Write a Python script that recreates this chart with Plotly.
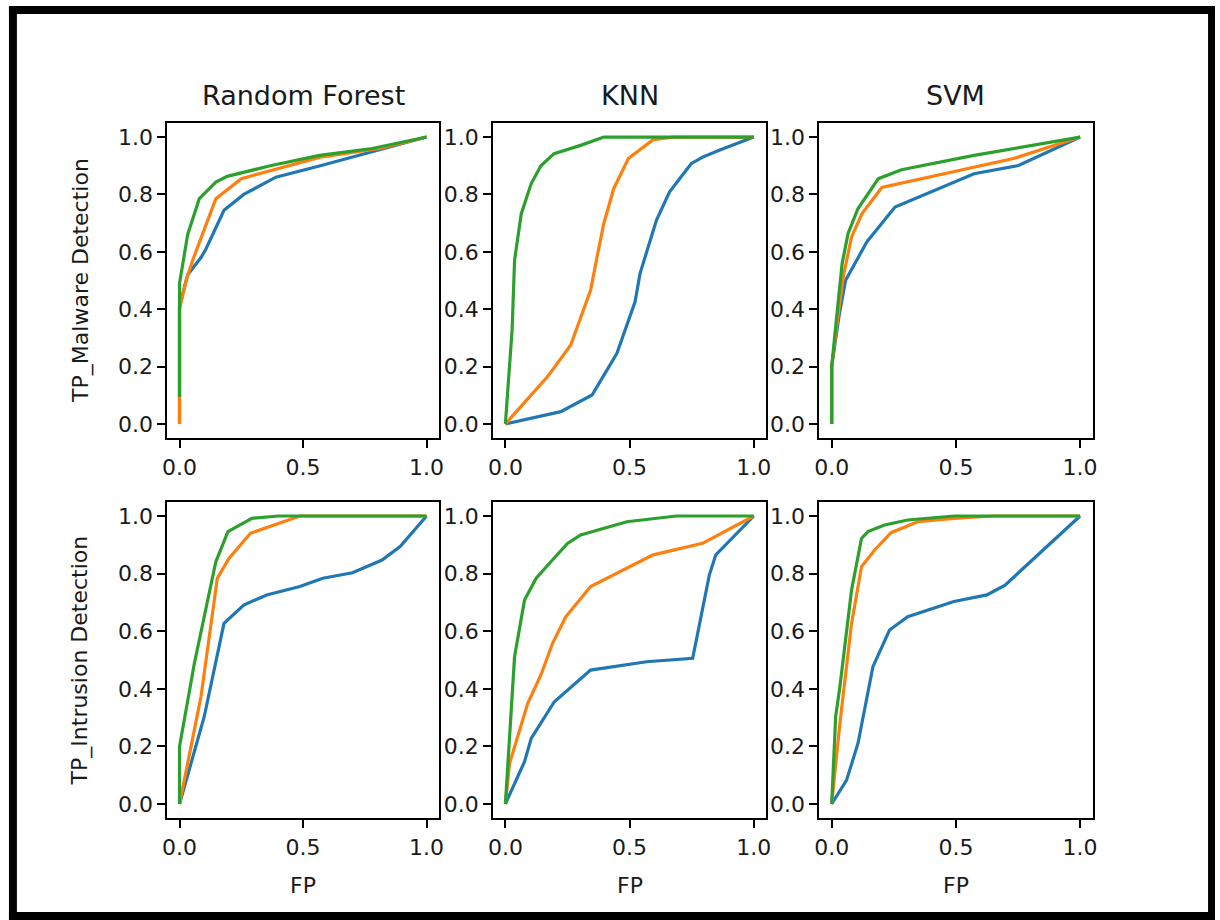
import plotly.graph_objects as go

W, H = 1220, 920

# ---------------- data ----------------
col_titles = ["Random Forest", "KNN", "SVM"]
row_labels = ["TP_Malware Detection", "TP_Intrusion Detection"]
x_label = "FP"
x_ticks = [0.0, 0.5, 1.0]
x_tick_text = ["0.0", "0.5", "1.0"]
y_ticks = [0.0, 0.2, 0.4, 0.6, 0.8, 1.0]
y_tick_text = ["0.0", "0.2", "0.4", "0.6", "0.8", "1.0"]
series_colors = ["#1f77b4", "#ff7f0e", "#2ca02c"]

# Random Forest - malware
rf_mal_blue_fp = [0.0, 0.0, 0.033, 0.087, 0.107, 0.18, 0.26, 0.39, 0.57, 0.78, 1.0]
rf_mal_blue_tp = [0.0, 0.41, 0.52, 0.58, 0.61, 0.745, 0.80, 0.86, 0.90, 0.95, 1.0]
rf_mal_orange_fp = [0.0, 0.0, 0.027, 0.053, 0.147, 0.25, 0.57, 0.81, 1.0]
rf_mal_orange_tp = [0.0, 0.40, 0.50, 0.57, 0.785, 0.855, 0.93, 0.96, 1.0]
rf_mal_green_fp = [0.0, 0.0, 0.033, 0.08, 0.147, 0.193, 0.367, 0.567, 0.78, 1.0]
rf_mal_green_tp = [0.095, 0.49, 0.66, 0.785, 0.843, 0.863, 0.90, 0.936, 0.96, 1.0]

# KNN - malware
knn_mal_blue_fp = [0.0, 0.223, 0.349, 0.449, 0.522, 0.542, 0.608, 0.661, 0.748, 0.794, 0.861, 1.0]
knn_mal_blue_tp = [0.0, 0.043, 0.101, 0.246, 0.426, 0.524, 0.71, 0.809, 0.907, 0.93, 0.954, 1.0]
knn_mal_orange_fp = [0.0, 0.17, 0.263, 0.343, 0.369, 0.396, 0.436, 0.495, 0.595, 0.675, 1.0]
knn_mal_orange_tp = [0.0, 0.165, 0.275, 0.466, 0.582, 0.698, 0.82, 0.925, 0.991, 1.0, 1.0]
knn_mal_green_fp = [0.0, 0.027, 0.037, 0.064, 0.104, 0.143, 0.196, 0.303, 0.396, 1.0]
knn_mal_green_tp = [0.0, 0.327, 0.571, 0.733, 0.838, 0.90, 0.942, 0.971, 1.0, 1.0]

# SVM - malware
svm_mal_blue_fp = [0.0, 0.0, 0.029, 0.056, 0.142, 0.255, 0.573, 0.752, 1.0]
svm_mal_blue_tp = [0.0, 0.2, 0.374, 0.501, 0.635, 0.756, 0.872, 0.901, 1.0]
svm_mal_orange_fp = [0.0, 0.0, 0.023, 0.049, 0.08, 0.122, 0.202, 0.573, 0.732, 1.0]
svm_mal_orange_tp = [0.0, 0.2, 0.362, 0.524, 0.652, 0.733, 0.824, 0.896, 0.925, 1.0]
svm_mal_green_fp = [0.0, 0.0, 0.016, 0.042, 0.066, 0.106, 0.188, 0.281, 0.573, 0.732, 1.0]
svm_mal_green_tp = [0.0, 0.2, 0.339, 0.559, 0.664, 0.751, 0.855, 0.886, 0.936, 0.96, 1.0]

# Random Forest - intrusion
rf_int_blue_fp = [0.0, 0.1, 0.18, 0.26, 0.353, 0.487, 0.58, 0.70, 0.82, 0.893, 1.0]
rf_int_blue_tp = [0.0, 0.303, 0.627, 0.691, 0.726, 0.755, 0.784, 0.803, 0.847, 0.894, 1.0]
rf_int_orange_fp = [0.0, 0.087, 0.153, 0.2, 0.287, 0.487, 1.0]
rf_int_orange_tp = [0.0, 0.373, 0.784, 0.853, 0.94, 1.0, 1.0]
rf_int_green_fp = [0.0, 0.0, 0.06, 0.147, 0.196, 0.293, 0.40, 1.0]
rf_int_green_tp = [0.0, 0.199, 0.488, 0.841, 0.946, 0.992, 1.0, 1.0]

# KNN - intrusion
knn_int_blue_fp = [0.0, 0.077, 0.104, 0.197, 0.343, 0.568, 0.754, 0.821, 0.847, 1.0]
knn_int_blue_tp = [0.0, 0.147, 0.228, 0.355, 0.465, 0.494, 0.506, 0.795, 0.865, 1.0]
knn_int_orange_fp = [0.0, 0.017, 0.09, 0.143, 0.19, 0.243, 0.343, 0.595, 0.794, 1.0]
knn_int_orange_tp = [0.0, 0.141, 0.35, 0.448, 0.558, 0.65, 0.755, 0.865, 0.905, 1.0]
knn_int_green_fp = [0.0, 0.024, 0.037, 0.077, 0.124, 0.183, 0.25, 0.303, 0.489, 0.688, 1.0]
knn_int_green_tp = [0.0, 0.326, 0.512, 0.708, 0.784, 0.841, 0.905, 0.934, 0.98, 1.0, 1.0]

# SVM - intrusion
svm_int_blue_fp = [0.0, 0.06, 0.106, 0.166, 0.233, 0.306, 0.492, 0.625, 0.698, 1.0]
svm_int_blue_tp = [0.0, 0.083, 0.211, 0.477, 0.604, 0.65, 0.703, 0.726, 0.76, 1.0]
svm_int_orange_fp = [0.0, 0.033, 0.08, 0.12, 0.173, 0.239, 0.346, 0.492, 0.652, 1.0]
svm_int_orange_tp = [0.0, 0.28, 0.627, 0.824, 0.882, 0.942, 0.98, 0.992, 1.0, 1.0]
svm_int_green_fp = [0.0, 0.016, 0.033, 0.08, 0.12, 0.146, 0.213, 0.306, 0.492, 1.0]
svm_int_green_tp = [0.0, 0.303, 0.407, 0.743, 0.922, 0.946, 0.969, 0.986, 1.0, 1.0]

panels = [
    [(rf_mal_blue_fp, rf_mal_blue_tp), (rf_mal_orange_fp, rf_mal_orange_tp), (rf_mal_green_fp, rf_mal_green_tp)],
    [(knn_mal_blue_fp, knn_mal_blue_tp), (knn_mal_orange_fp, knn_mal_orange_tp), (knn_mal_green_fp, knn_mal_green_tp)],
    [(svm_mal_blue_fp, svm_mal_blue_tp), (svm_mal_orange_fp, svm_mal_orange_tp), (svm_mal_green_fp, svm_mal_green_tp)],
    [(rf_int_blue_fp, rf_int_blue_tp), (rf_int_orange_fp, rf_int_orange_tp), (rf_int_green_fp, rf_int_green_tp)],
    [(knn_int_blue_fp, knn_int_blue_tp), (knn_int_orange_fp, knn_int_orange_tp), (knn_int_green_fp, knn_int_green_tp)],
    [(svm_int_blue_fp, svm_int_blue_tp), (svm_int_orange_fp, svm_int_orange_tp), (svm_int_green_fp, svm_int_green_tp)],
]

# ---------------- layout (pixels) ----------------
col_px = [(163.5, 437.5), (492.0, 767.5), (821.0, 1096.5)]
row_px = [(122.7, 438.3), (501.6, 818.4)]  # top, bottom

FONT = "DejaVu Sans"
fig = go.Figure()

layout = dict(
    width=W, height=H,
    margin=dict(l=0, r=0, t=0, b=0),
    paper_bgcolor="white", plot_bgcolor="white",
    showlegend=False,
    font=dict(family=FONT, size=22, color="black"),
)

idx = 0
for r in range(2):
    for c in range(3):
        idx += 1
        xa = "xaxis" if idx == 1 else f"xaxis{idx}"
        ya = "yaxis" if idx == 1 else f"yaxis{idx}"
        xref = "x" if idx == 1 else f"x{idx}"
        yref = "y" if idx == 1 else f"y{idx}"
        x0, x1 = col_px[c]
        t, b = row_px[r]
        common = dict(
            range=[-0.05, 1.05], showgrid=False, zeroline=False,
            showline=True, mirror=True, linecolor="black", linewidth=1.6,
            ticks="outside", ticklen=8, tickwidth=1.6, tickcolor="black",
            tickfont=dict(family=FONT, size=22, color="#1a1a1a"),
            fixedrange=True,
        )
        layout[xa] = dict(common, domain=[x0 / W, x1 / W], anchor=yref,
                          tickvals=x_ticks, ticktext=x_tick_text)
        layout[ya] = dict(common, domain=[1 - b / H, 1 - t / H], anchor=xref,
                          tickvals=y_ticks, ticktext=y_tick_text)
        for k, (xs, ys) in enumerate(panels[idx - 1]):
            fig.add_trace(go.Scatter(
                x=xs, y=ys, mode="lines", xaxis=xref, yaxis=yref,
                line=dict(color=series_colors[k], width=3.2),
                hoverinfo="skip",
            ))

annotations = []
for c in range(3):
    cx = (col_px[c][0] + col_px[c][1]) / 2
    annotations.append(dict(text=col_titles[c], x=cx / W, y=1 - 96 / H, xref="paper", yref="paper",
                            showarrow=False, xanchor="center", yanchor="middle",
                            font=dict(family=FONT, size=27, color="#1a1a1a")))
    annotations.append(dict(text=x_label, x=cx / W, y=1 - 885 / H, xref="paper", yref="paper",
                            showarrow=False, xanchor="center", yanchor="middle",
                            font=dict(family=FONT, size=22, color="#1a1a1a")))
for r in range(2):
    cy = (row_px[r][0] + row_px[r][1]) / 2
    annotations.append(dict(text=row_labels[r], x=76 / W, y=1 - cy / H, xref="paper", yref="paper",
                            showarrow=False, xanchor="center", yanchor="middle", textangle=-90,
                            font=dict(family=FONT, size=22, color="#1a1a1a")))
layout["annotations"] = annotations

def rect(px0, py0, px1, py1):
    return dict(type="rect", xref="paper", yref="paper",
                x0=px0 / W, x1=px1 / W, y0=1 - py1 / H, y1=1 - py0 / H,
                fillcolor="black", line=dict(width=0), layer="above")

layout["shapes"] = [
    rect(4, 6, 1220, 14),
    rect(4, 6, 12, 920),
    rect(1213, 6, 1220, 920),
    rect(4, 912, 1220, 920),
]

fig.update_layout(**layout)
fig.write_html(
    "out.html",
    config={"displayModeBar": False},
    post_script="document.body.style.margin='0';document.body.style.overflow='hidden';",
)
